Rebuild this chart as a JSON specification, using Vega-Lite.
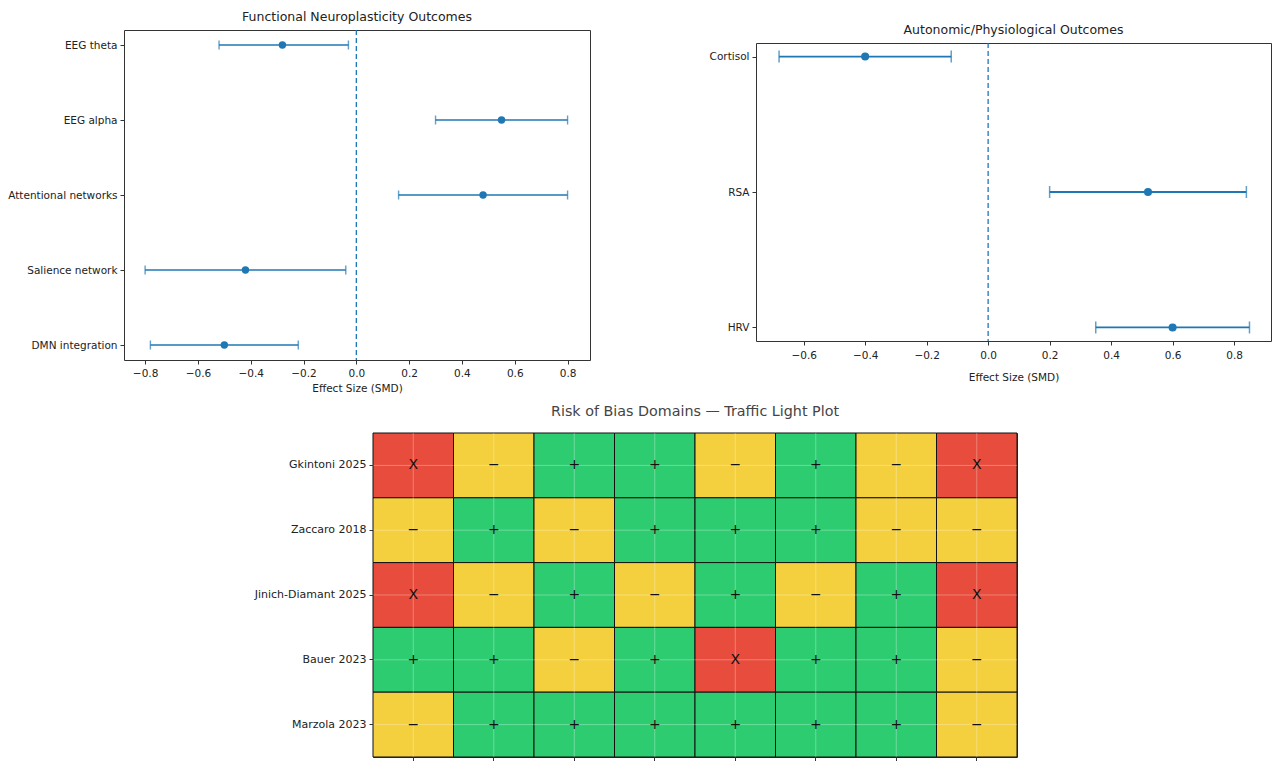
{
  "$schema": "https://vega.github.io/schema/vega-lite/v6.json",
  "padding": {"left": 0, "top": 10, "right": 0, "bottom": 0},
  "background": "white",
  "config": {
    "font": "DejaVu Sans",
    "view": {"stroke": "#333333", "strokeWidth": 1},
    "axis": {"labelFont": "DejaVu Sans", "titleFont": "DejaVu Sans", "labelColor": "#222222", "titleColor": "#222222", "tickColor": "#333333", "domain": false, "grid": false, "titleFontWeight": "normal", "labelFlush": false},
    "title": {"font": "DejaVu Sans", "fontWeight": "normal", "color": "#222222"}
  },
  "datasets": {
    "neuro": [
      {"outcome": "EEG theta", "smd": -0.28, "lo": -0.52, "hi": -0.03},
      {"outcome": "EEG alpha", "smd": 0.55, "lo": 0.30, "hi": 0.80},
      {"outcome": "Attentional networks", "smd": 0.48, "lo": 0.16, "hi": 0.80},
      {"outcome": "Salience network", "smd": -0.42, "lo": -0.80, "hi": -0.04},
      {"outcome": "DMN integration", "smd": -0.50, "lo": -0.78, "hi": -0.22}
    ],
    "auto": [
      {"outcome": "Cortisol", "smd": -0.40, "lo": -0.68, "hi": -0.12},
      {"outcome": "RSA", "smd": 0.52, "lo": 0.20, "hi": 0.84},
      {"outcome": "HRV", "smd": 0.60, "lo": 0.35, "hi": 0.85}
    ],
    "zero": [{"x": 0}],
    "rob": [
      {"study": "Gkintoni 2025", "domain": "D1", "judgement": "High", "symbol": "X"},
      {"study": "Gkintoni 2025", "domain": "D2", "judgement": "Some concerns", "symbol": "−"},
      {"study": "Gkintoni 2025", "domain": "D3", "judgement": "Low", "symbol": "+"},
      {"study": "Gkintoni 2025", "domain": "D4", "judgement": "Low", "symbol": "+"},
      {"study": "Gkintoni 2025", "domain": "D5", "judgement": "Some concerns", "symbol": "−"},
      {"study": "Gkintoni 2025", "domain": "D6", "judgement": "Low", "symbol": "+"},
      {"study": "Gkintoni 2025", "domain": "D7", "judgement": "Some concerns", "symbol": "−"},
      {"study": "Gkintoni 2025", "domain": "D8", "judgement": "High", "symbol": "X"},
      {"study": "Zaccaro 2018", "domain": "D1", "judgement": "Some concerns", "symbol": "−"},
      {"study": "Zaccaro 2018", "domain": "D2", "judgement": "Low", "symbol": "+"},
      {"study": "Zaccaro 2018", "domain": "D3", "judgement": "Some concerns", "symbol": "−"},
      {"study": "Zaccaro 2018", "domain": "D4", "judgement": "Low", "symbol": "+"},
      {"study": "Zaccaro 2018", "domain": "D5", "judgement": "Low", "symbol": "+"},
      {"study": "Zaccaro 2018", "domain": "D6", "judgement": "Low", "symbol": "+"},
      {"study": "Zaccaro 2018", "domain": "D7", "judgement": "Some concerns", "symbol": "−"},
      {"study": "Zaccaro 2018", "domain": "D8", "judgement": "Some concerns", "symbol": "−"},
      {"study": "Jinich-Diamant 2025", "domain": "D1", "judgement": "High", "symbol": "X"},
      {"study": "Jinich-Diamant 2025", "domain": "D2", "judgement": "Some concerns", "symbol": "−"},
      {"study": "Jinich-Diamant 2025", "domain": "D3", "judgement": "Low", "symbol": "+"},
      {"study": "Jinich-Diamant 2025", "domain": "D4", "judgement": "Some concerns", "symbol": "−"},
      {"study": "Jinich-Diamant 2025", "domain": "D5", "judgement": "Low", "symbol": "+"},
      {"study": "Jinich-Diamant 2025", "domain": "D6", "judgement": "Some concerns", "symbol": "−"},
      {"study": "Jinich-Diamant 2025", "domain": "D7", "judgement": "Low", "symbol": "+"},
      {"study": "Jinich-Diamant 2025", "domain": "D8", "judgement": "High", "symbol": "X"},
      {"study": "Bauer 2023", "domain": "D1", "judgement": "Low", "symbol": "+"},
      {"study": "Bauer 2023", "domain": "D2", "judgement": "Low", "symbol": "+"},
      {"study": "Bauer 2023", "domain": "D3", "judgement": "Some concerns", "symbol": "−"},
      {"study": "Bauer 2023", "domain": "D4", "judgement": "Low", "symbol": "+"},
      {"study": "Bauer 2023", "domain": "D5", "judgement": "High", "symbol": "X"},
      {"study": "Bauer 2023", "domain": "D6", "judgement": "Low", "symbol": "+"},
      {"study": "Bauer 2023", "domain": "D7", "judgement": "Low", "symbol": "+"},
      {"study": "Bauer 2023", "domain": "D8", "judgement": "Some concerns", "symbol": "−"},
      {"study": "Marzola 2023", "domain": "D1", "judgement": "Some concerns", "symbol": "−"},
      {"study": "Marzola 2023", "domain": "D2", "judgement": "Low", "symbol": "+"},
      {"study": "Marzola 2023", "domain": "D3", "judgement": "Low", "symbol": "+"},
      {"study": "Marzola 2023", "domain": "D4", "judgement": "Low", "symbol": "+"},
      {"study": "Marzola 2023", "domain": "D5", "judgement": "Low", "symbol": "+"},
      {"study": "Marzola 2023", "domain": "D6", "judgement": "Low", "symbol": "+"},
      {"study": "Marzola 2023", "domain": "D7", "judgement": "Low", "symbol": "+"},
      {"study": "Marzola 2023", "domain": "D8", "judgement": "Some concerns", "symbol": "−"}
    ]
  },
  "spacing": 9,
  "vconcat": [
    {
      "spacing": 104,
      "hconcat": [
        {
          "width": 466,
          "height": 330,
          "title": {"text": "Functional Neuroplasticity Outcomes", "fontSize": 12.5, "offset": 6},
          "layer": [
            {
              "data": {"name": "zero"},
              "mark": {"type": "rule", "color": "#1f77b4", "strokeDash": [5, 3], "strokeWidth": 1.3},
              "encoding": {
                "x": {"field": "x", "type": "quantitative", "scale": {"domain": [-0.88, 0.885], "nice": false, "zero": false},
                  "axis": {"title": "Effect Size (SMD)", "values": [-0.8, -0.6, -0.4, -0.2, 0, 0.2, 0.4, 0.6, 0.8], "format": ".1f", "labelFontSize": 10.5, "titleFontSize": 10.5, "tickSize": 4, "labelPadding": 4, "titlePadding": 5}}
              }
            },
            {
              "data": {"name": "neuro"},
              "encoding": {
                "y": {"field": "outcome", "type": "nominal", "sort": ["EEG theta", "EEG alpha", "Attentional networks", "Salience network", "DMN integration"], "scale": {"type": "point", "padding": 0.2},
                  "axis": {"title": null, "labelFontSize": 10.5, "tickSize": 4, "labelPadding": 3, "minExtent": 123, "maxExtent": 123}}
              },
              "layer": [
                {"mark": {"type": "rule", "color": "#1f77b4", "strokeWidth": 1.6}, "encoding": {"x": {"field": "lo", "type": "quantitative"}, "x2": {"field": "hi"}}},
                {"mark": {"type": "tick", "color": "#1f77b4", "thickness": 1.4, "size": 9}, "encoding": {"x": {"field": "lo", "type": "quantitative"}}},
                {"mark": {"type": "tick", "color": "#1f77b4", "thickness": 1.4, "size": 9}, "encoding": {"x": {"field": "hi", "type": "quantitative"}}},
                {"mark": {"type": "point", "filled": true, "color": "#1f77b4", "opacity": 1, "size": 55}, "encoding": {"x": {"field": "smd", "type": "quantitative"}}}
              ]
            }
          ]
        },
        {
          "spacing": -11,
          "vconcat": [
            {"width": 10, "height": 1, "view": {"stroke": null}, "data": {"name": "zero"}, "mark": {"type": "point", "opacity": 0}},
            {
              "width": 515,
              "height": 298,
              "title": {"text": "Autonomic/Physiological Outcomes", "fontSize": 12.5, "offset": 6},
              "layer": [
                {
                  "data": {"name": "zero"},
                  "mark": {"type": "rule", "color": "#1f77b4", "strokeDash": [5, 3], "strokeWidth": 1.3},
                  "encoding": {
                    "x": {"field": "x", "type": "quantitative", "scale": {"domain": [-0.755, 0.92], "nice": false, "zero": false},
                      "axis": {"title": "Effect Size (SMD)", "values": [-0.6, -0.4, -0.2, 0, 0.2, 0.4, 0.6, 0.8], "format": ".1f", "labelFontSize": 10.5, "titleFontSize": 10.5, "tickSize": 4, "labelPadding": 5, "titlePadding": 12}}
                  }
                },
                {
                  "data": {"name": "auto"},
                  "encoding": {
                    "y": {"field": "outcome", "type": "nominal", "sort": ["Cortisol", "RSA", "HRV"], "scale": {"type": "point", "padding": 0.1},
                      "axis": {"title": null, "labelFontSize": 10.5, "tickSize": 4, "labelPadding": 3, "minExtent": 60, "maxExtent": 60}}
                  },
                  "layer": [
                    {"mark": {"type": "rule", "color": "#1f77b4", "strokeWidth": 1.8}, "encoding": {"x": {"field": "lo", "type": "quantitative"}, "x2": {"field": "hi"}}},
                    {"mark": {"type": "tick", "color": "#1f77b4", "thickness": 1.5, "size": 12}, "encoding": {"x": {"field": "lo", "type": "quantitative"}}},
                    {"mark": {"type": "tick", "color": "#1f77b4", "thickness": 1.5, "size": 12}, "encoding": {"x": {"field": "hi", "type": "quantitative"}}},
                    {"mark": {"type": "point", "filled": true, "color": "#1f77b4", "opacity": 1, "size": 65}, "encoding": {"x": {"field": "smd", "type": "quantitative"}}}
                  ]
                }
              ]
            }
          ]
        }
      ]
    },
    {
      "spacing": 118,
      "hconcat": [
        {"width": 10, "height": 1, "view": {"stroke": null}, "data": {"name": "zero"}, "mark": {"type": "point", "opacity": 0}},
        {
          "width": 644,
          "height": 324,
          "title": {"text": "Risk of Bias Domains — Traffic Light Plot", "fontSize": 14.3, "offset": 13, "color": "#444444"},
          "data": {"name": "rob"},
          "encoding": {
            "x": {"field": "domain", "type": "nominal", "sort": ["D1", "D2", "D3", "D4", "D5", "D6", "D7", "D8"], "scale": {"paddingInner": 0, "paddingOuter": 0},
              "axis": {"title": null, "labels": false, "ticks": true, "tickSize": 4, "bandPosition": 0.5}},
            "y": {"field": "study", "type": "nominal", "sort": ["Gkintoni 2025", "Zaccaro 2018", "Jinich-Diamant 2025", "Bauer 2023", "Marzola 2023"], "scale": {"paddingInner": 0, "paddingOuter": 0},
              "axis": {"title": null, "labelFontSize": 11, "tickSize": 4, "labelPadding": 3, "minExtent": 120, "maxExtent": 120, "bandPosition": 0.5}}
          },
          "layer": [
            {"mark": {"type": "rect", "stroke": "#111111", "strokeWidth": 1}, "encoding": {"color": {"field": "judgement", "type": "nominal", "scale": {"domain": ["High", "Some concerns", "Low"], "range": ["#e74c3c", "#f4d03f", "#2ecc71"]}, "legend": null}}},
            {"transform": [{"filter": "datum.study === 'Gkintoni 2025'"}], "mark": {"type": "rule", "color": "#ffffff", "opacity": 0.3, "strokeWidth": 1}, "encoding": {"y": null}},
            {"transform": [{"filter": "datum.domain === 'D1'"}], "mark": {"type": "rule", "color": "#ffffff", "opacity": 0.3, "strokeWidth": 1}, "encoding": {"x": null}},
            {"mark": {"type": "text", "fontSize": 14, "color": "#111111"}, "encoding": {"text": {"field": "symbol", "type": "nominal"}}}
          ]
        }
      ]
    }
  ]
}
